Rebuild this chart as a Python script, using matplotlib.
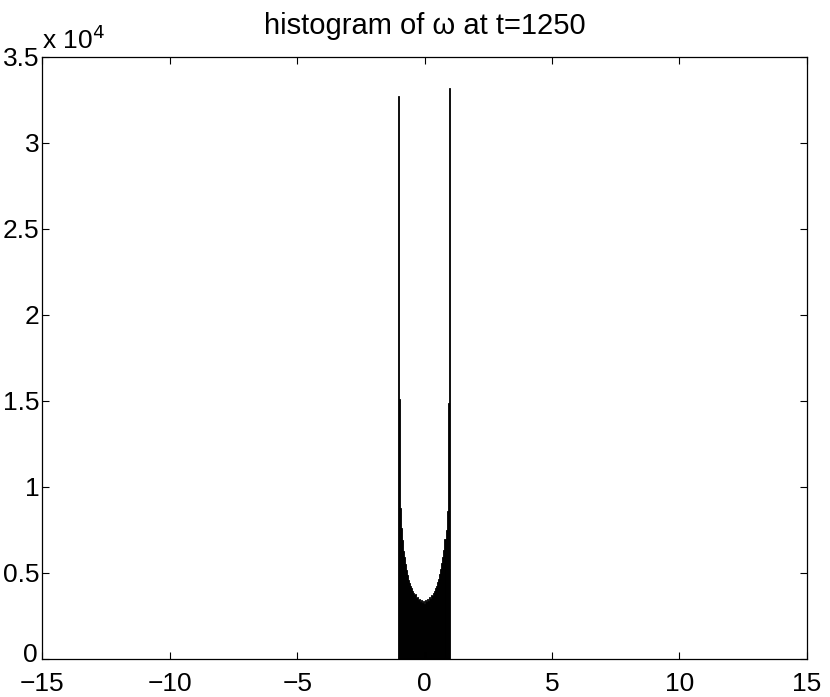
import matplotlib
matplotlib.use("Agg")
import matplotlib.pyplot as plt
import numpy as np
from matplotlib.ticker import FuncFormatter

plt.rcParams['font.family'] = ['Liberation Sans', 'DejaVu Sans']

# bin centers (width 0.04) and counts
bin_centers = [round(-1.04 + 0.04 * i, 2) for i in range(53)]
counts = [32700, 15100, 8800, 7600, 6900, 6300, 5900, 5500, 5200, 4900,
          4600, 4400, 4250, 4100, 3950, 3850, 3700, 3750, 3550, 3600,
          3450, 3500, 3300, 3400, 3250, 3350, 3200,
          3400, 3300, 3500, 3350, 3600, 3500, 3700, 3650, 3850, 3950,
          4100, 4250, 4450, 4650, 4950, 5250, 5550, 5950, 6350, 6950,
          7500, 8600, 14900, 33200]
counts = counts[:len(bin_centers)]
bin_width = 0.04

xticks = [-15, -10, -5, 0, 5, 10, 15]
yticks = [0, 5000, 10000, 15000, 20000, 25000, 30000, 35000]
title = "histogram of \u03c9 at t=1250"

fig = plt.figure(figsize=(8.30, 6.97), dpi=100)
ax = fig.add_axes([0.0512, 0.0545, 0.9208, 0.8642])
ax.bar(bin_centers[:len(counts)], counts, width=bin_width, color='black',
       edgecolor='black', linewidth=0.6, align='center')
ax.set_xlim(-15, 15)
ax.set_ylim(0, 35000)
ax.set_xticks(xticks)
ax.set_yticks(yticks)
ax.yaxis.set_major_formatter(FuncFormatter(lambda v, p: '' if v == 0 else ('%g' % (v / 1e4))))
ax.xaxis.set_major_formatter(FuncFormatter(lambda v, p: ('%g' % v).replace('-', '\u2212')))
ax.tick_params(direction='in', length=5, width=0.8, top=True, right=True,
               labelsize=19)
ax.tick_params(axis='x', pad=9)
ax.tick_params(axis='y', pad=2)
for s in ax.spines.values():
    s.set_linewidth(0.9)
# the "0" y tick label, nudged up slightly so it clears the x labels
ax.annotate('0', xy=(0, yticks[0]), xycoords=('axes fraction', 'data'),
            xytext=(-3.5, 3), textcoords='offset points', ha='right', va='center',
            fontsize=19)
ax.set_title(title, fontsize=21, pad=16)
ax.text(0.0, 1.004, r'x 10$^{4}$', transform=ax.transAxes, fontsize=19,
        ha='left', va='bottom')
fig.savefig('out.png', dpi=100)
